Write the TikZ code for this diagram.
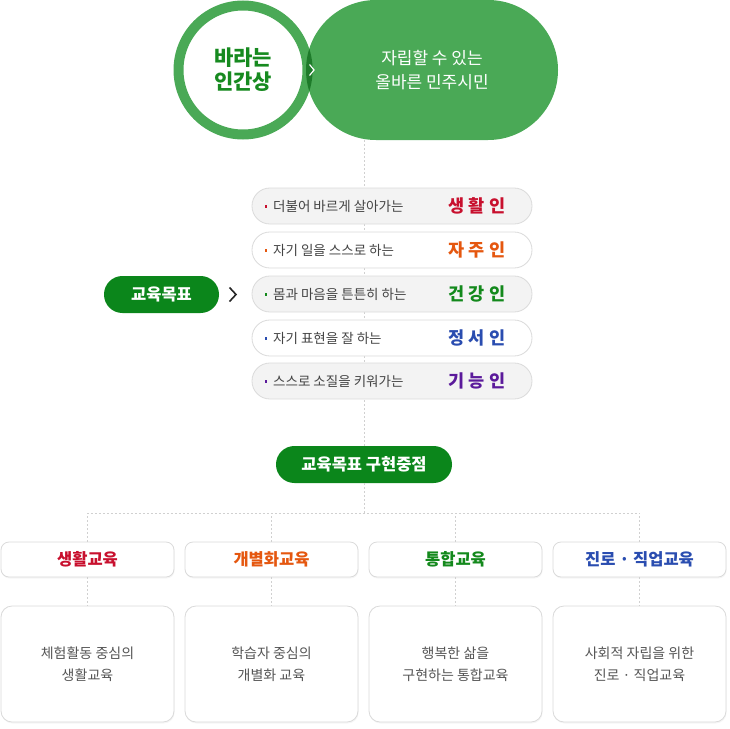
\documentclass[tikz,border=0pt]{standalone}
\usepackage{fontspec}
\setmainfont{Noto Sans CJK KR}
\usetikzlibrary{shadows}
\definecolor{ringg}{HTML}{4AA956}
\definecolor{lensg}{HTML}{1E7B2A}
\definecolor{darkg}{HTML}{178A20}
\definecolor{pillg}{HTML}{0B861B}
\definecolor{cred}{HTML}{C8102E}
\definecolor{corange}{HTML}{E5570F}
\definecolor{cgreen}{HTML}{13891C}
\definecolor{cblue}{HTML}{2A4DB0}
\definecolor{cpurple}{HTML}{5B1A9B}
\definecolor{dashc}{HTML}{D0D0D0}
\definecolor{bordc}{HTML}{DADADA}
\definecolor{graybg}{HTML}{F3F3F3}
\definecolor{txtg}{HTML}{444444}
\definecolor{desc}{HTML}{555555}
\begin{document}
\begin{tikzpicture}[x=1pt,y=-1pt,
  dashline/.style={draw=dashc,line width=0.8pt,dash pattern=on 2pt off 2pt},
  goalpill/.style={draw=bordc,line width=0.8pt,rounded corners=17.9pt,minimum width=280pt,minimum height=36pt,inner sep=0pt},
  goaltext/.style={anchor=west,inner sep=0pt,text=txtg,font=\fontsize{13.5}{15}\selectfont},
  goallabel/.style={inner sep=0pt,font=\fontsize{17.5}{19}\selectfont\bfseries},
  gdot/.style={fill=#1,minimum size=2.4pt,inner sep=0pt},
  greenpill/.style={fill=pillg,text=white,inner sep=0pt,minimum height=37pt,rounded corners=18.4pt,font=\fontsize{16.5}{17}\selectfont\bfseries},
  headbox/.style={draw=bordc,fill=white,line width=0.8pt,rounded corners=8pt,minimum width=173pt,minimum height=35pt,inner sep=0pt,font=\fontsize{16.5}{18}\selectfont\bfseries,drop shadow={opacity=0.08,shadow xshift=0.6pt,shadow yshift=-1.5pt}},
  descbox/.style={draw=bordc,fill=white,line width=0.8pt,rounded corners=11pt,minimum width=173pt,minimum height=116pt,inner sep=0pt,align=center,text=desc,font=\fontsize{14}{22}\selectfont,drop shadow={opacity=0.08,shadow xshift=0.6pt,shadow yshift=-1.5pt}}
]
\useasboundingbox (0,0) rectangle (730,728);
% top
\node[circle,draw=ringg,line width=10pt,fill=white,minimum size=129pt,inner sep=0pt,align=center,text=darkg,font=\fontsize{21}{24}\selectfont\bfseries] (c) at (243,70) {바라는\\인간상};
\node[fill=ringg,rounded corners=69.9pt,minimum width=252pt,minimum height=140pt,inner sep=0pt,align=center,text=white,font=\fontsize{17}{24}\selectfont] (p) at (432,70) {자립할 수 있는\\올바른 민주시민};
\begin{scope}
  \clip (243,70) circle (69.6);
  \fill[lensg] (376,70) circle (70);
\end{scope}
\draw[white,line width=1.2pt] (309.5,64.5) -- (314,70) -- (309.5,75.5);
% goal list
\node[greenpill,minimum width=176pt] (t) at (364,464.5) {교육목표 구현중점};
\draw[dashline] (t.north |- p.south) -- (t.north);
\foreach \i/\y/\bg/\col/\txt/\lab in {
  1/206/graybg/cred/더불어 바르게 살아가는/생 활 인,
  2/250/white/corange/자기 일을 스스로 하는/자 주 인,
  3/294/graybg/cgreen/몸과 마음을 튼튼히 하는/건 강 인,
  4/338/white/cblue/자기 표현을 잘 하는/정 서 인,
  5/381/graybg/cpurple/스스로 소질을 키워가는/기 능 인}{
  \node[goalpill,fill=\bg] (g\i) at (392,\y) {};
  \node[gdot=\col] (d\i) at (266,\y+0.5) {};
  \node[goaltext] (x\i) at (273,\y) {\txt};
  \node[goallabel,text=\col] (l\i) at (477,\y) {\lab};
}
\node[greenpill,minimum width=115pt] (m) at (161.5,294.5) {교육목표};
\coordinate (chev) at (233,294.5);
\draw[black!85,line width=1.6pt] ([xshift=-3.5pt,yshift=7pt]chev) -- ([xshift=3pt]chev) -- ([xshift=-3.5pt,yshift=-7pt]chev);
% tree
\node[headbox,text=cred] (h1) at (87.5,559.5) {생활교육};
\node[headbox,text=corange] (h2) at (271.5,559.5) {개별화교육};
\node[headbox,text=cgreen] (h3) at (455.5,559.5) {통합교육};
\node[headbox,text=cblue] (h4) at (639.5,559.5) {진로 · 직업교육};
\coordinate (j) at (364,513);
\draw[dashline] (t.south) -- (j);
\draw[dashline] (h1.north) -- (h1.north |- j) -- (h4.north |- j) -- (h4.north);
\draw[dashline] (h2.north) -- (h2.north |- j);
\draw[dashline] (h3.north) -- (h3.north |- j);
\node[descbox] (e1) at (87.5,664) {체험활동 중심의\\생활교육};
\node[descbox] (e2) at (271.5,664) {학습자 중심의\\개별화 교육};
\node[descbox] (e3) at (455.5,664) {행복한 삶을\\구현하는 통합교육};
\node[descbox] (e4) at (639.5,664) {사회적 자립을 위한\\진로 · 직업교육};
\foreach \i in {1,2,3,4}{\draw[dashline] (h\i.south) -- (e\i.north);}
\end{tikzpicture}
\end{document}
